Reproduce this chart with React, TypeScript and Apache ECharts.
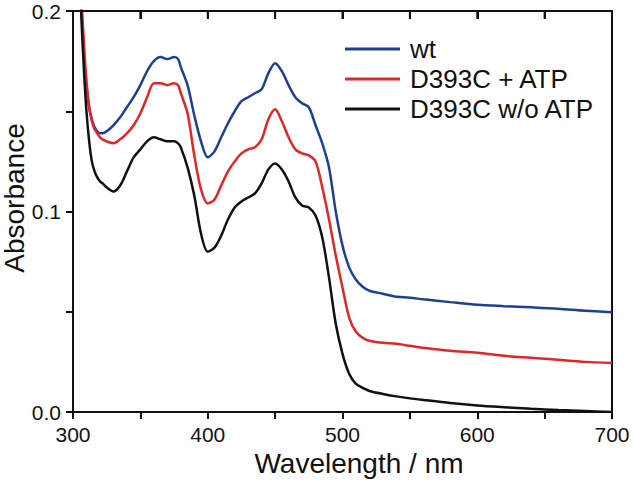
import React, { useEffect, useRef } from "react";
import * as echarts from "echarts";

const wavelengths = [
  302, 304, 306, 308, 310, 312, 314, 316, 318, 320, 322, 325, 330, 335, 340, 345, 350, 355, 360, 365,
  370, 375, 378, 380, 385, 390, 395, 400, 405, 410, 415, 420, 425, 430, 435, 440, 445, 450, 455, 460,
  465, 470, 475, 480, 485, 490, 495, 500, 505, 510, 515, 520, 530, 540, 550, 560, 580, 600, 620, 640,
  660, 680, 700,
];

const wt = [
  0.28, 0.235, 0.205, 0.18, 0.163, 0.152, 0.146, 0.142, 0.14, 0.139, 0.139, 0.14, 0.143, 0.147, 0.152, 0.157, 0.163, 0.17, 0.175, 0.177,
  0.176, 0.177, 0.176, 0.172, 0.163, 0.148, 0.135, 0.127, 0.13, 0.137, 0.144, 0.15, 0.155, 0.157, 0.159, 0.161, 0.169, 0.174, 0.17, 0.163,
  0.157, 0.154, 0.152, 0.143, 0.134, 0.122, 0.1, 0.083, 0.072, 0.066, 0.0625, 0.0605, 0.059, 0.0575, 0.057, 0.0562, 0.0548, 0.0535, 0.0528, 0.0522,
  0.0515, 0.0505, 0.0498,
];

const d393cAtp = [
  0.28, 0.24, 0.21, 0.185, 0.165, 0.152, 0.145, 0.141, 0.139, 0.137, 0.136, 0.135, 0.134, 0.136, 0.139, 0.143, 0.149, 0.157, 0.164, 0.164,
  0.163, 0.164, 0.163, 0.159, 0.149, 0.128, 0.111, 0.104, 0.106, 0.113, 0.12, 0.125, 0.129, 0.131, 0.132, 0.136, 0.146, 0.151, 0.145, 0.137,
  0.131, 0.129, 0.128, 0.125, 0.112, 0.096, 0.078, 0.062, 0.047, 0.04, 0.037, 0.0355, 0.0345, 0.034, 0.033, 0.032, 0.0305, 0.0295, 0.028, 0.027,
  0.026, 0.025, 0.0244,
];

const d393cNoAtp = [
  0.28, 0.235, 0.2, 0.172, 0.15, 0.135, 0.125, 0.12, 0.117, 0.115, 0.114, 0.112, 0.11, 0.113, 0.12, 0.127, 0.131, 0.135, 0.137, 0.136,
  0.135, 0.135, 0.134, 0.132, 0.122, 0.108, 0.089, 0.08, 0.082, 0.088, 0.096, 0.102, 0.105, 0.107, 0.109, 0.114, 0.121, 0.124, 0.121, 0.115,
  0.107, 0.103, 0.102, 0.098, 0.087, 0.067, 0.044, 0.029, 0.019, 0.014, 0.012, 0.0105, 0.009, 0.0078, 0.0068, 0.006, 0.0045, 0.0033, 0.0024, 0.0016,
  0.001, 0.0005, 0.0,
];

const topTickValues = [300, 350, 400, 450, 500, 550, 600, 650, 700];

const seriesNames = ["wt", "D393C + ATP", "D393C w/o ATP"];
const seriesColors = ["#1f3f97", "#e42528", "#111111"];
const xTitle = "Wavelength / nm";
const yTitle = "Absorbance";

const FONT = "'Liberation Sans', Arial, Helvetica, sans-serif";

const mkLine = () => ({ show: true, onZero: false, lineStyle: { color: "#111", width: 2 } });
const mkTick = (inside: boolean, length: number) => ({
  show: true,
  inside,
  length,
  lineStyle: { color: "#111", width: 2 },
});

export default function App() {
  const ref = useRef<HTMLDivElement>(null);

  useEffect(() => {
    if (!ref.current) return;
    const chart = echarts.init(ref.current, undefined, { renderer: "svg" });
    const values = [wt, d393cAtp, d393cNoAtp];
    const titleTexts = [
      {
        id: "xTitle",
        type: "text",
        x: 359,
        y: 463,
        style: {
          text: xTitle,
          fontSize: 28,
          fontFamily: FONT,
          fill: "#111",
          align: "center",
          verticalAlign: "middle",
        },
      },
      {
        id: "yTitle",
        type: "text",
        x: 14,
        y: 198,
        rotation: Math.PI / 2,
        style: {
          text: yTitle,
          fontSize: 28,
          fontFamily: FONT,
          fill: "#111",
          align: "center",
          verticalAlign: "middle",
        },
      },
    ];
    chart.setOption({
      animation: false,
      backgroundColor: "#fff",
      grid: {
        left: 73,
        right: 21,
        top: 11,
        bottom: 68,
        outerBoundsMode: "none",
      },
      xAxis: [
        {
          type: "value",
          position: "bottom",
          gridIndex: 0,
          min: 300,
          max: 700,
          interval: 50,
          axisLine: mkLine(),
          axisTick: mkTick(false, 7),
          axisLabel: {
            show: true,
            margin: 12,
            fontSize: 21,
            color: "#111",
            fontFamily: FONT,
            formatter: (v: number) => (Math.round(v) % 100 === 0 ? String(Math.round(v)) : ""),
          },
          splitLine: { show: false },
        },
        {
          type: "value",
          position: "top",
          gridIndex: 0,
          min: 300,
          max: 700,
          interval: 50,
          z: 10,
          axisLine: mkLine(),
          axisTick: mkTick(true, 8),
          axisLabel: { show: false },
          splitLine: { show: false },
        },
      ],
      yAxis: [
        {
          type: "value",
          position: "left",
          gridIndex: 0,
          min: 0,
          max: 0.2,
          interval: 0.05,
          axisLine: mkLine(),
          axisTick: mkTick(false, 7),
          axisLabel: {
            show: true,
            margin: 12,
            fontSize: 21,
            color: "#111",
            fontFamily: FONT,
            formatter: (v: number) =>
              Math.abs(v * 10 - Math.round(v * 10)) < 1e-6 ? v.toFixed(1) : "",
          },
          splitLine: { show: false },
        },
        {
          type: "value",
          position: "right",
          gridIndex: 0,
          min: 0,
          max: 0.2,
          interval: 0.05,
          axisLine: mkLine(),
          axisTick: { show: false },
          axisLabel: { show: false },
          splitLine: { show: false },
        },
      ],
      legend: {
        orient: "vertical",
        left: 340,
        top: 31,
        icon: "rect",
        itemWidth: 55,
        itemHeight: 3,
        itemGap: 4,
        data: seriesNames,
        textStyle: { fontSize: 26, color: "#111", fontFamily: FONT, padding: [0, 0, 0, 5] },
      },
      graphic: titleTexts,
      series: values.map((vals, i) => ({
        name: seriesNames[i],
        type: "line",
        xAxisIndex: 0,
        yAxisIndex: 0,
        data: wavelengths.map((w, j) => [w, vals[j]]),
        symbol: "none",
        showSymbol: false,
        smooth: 0.3,
        clip: true,
        color: seriesColors[i],
        itemStyle: { color: seriesColors[i] },
        lineStyle: { color: seriesColors[i], width: 2.5 },
      })),
    });

    // Top frame edge and inward ticks, placed through the chart's own scales.
    const topY = chart.convertToPixel({ yAxisIndex: 0 }, 0.2) as number;
    const xLeft = chart.convertToPixel({ xAxisIndex: 0 }, topTickValues[0]) as number;
    const xRight = chart.convertToPixel(
      { xAxisIndex: 0 },
      topTickValues[topTickValues.length - 1]
    ) as number;
    const frameStyle = { stroke: "#111", lineWidth: 2 };
    const topElements: any[] = [
      {
        id: "topEdge",
        type: "line",
        z: 100,
        shape: { x1: xLeft - 1, y1: topY, x2: xRight + 1, y2: topY },
        style: frameStyle,
      },
      ...topTickValues.map((v, i) => {
        const px = chart.convertToPixel({ xAxisIndex: 0 }, v) as number;
        return {
          id: "topTick" + i,
          type: "line",
          z: 100,
          shape: { x1: px, y1: topY, x2: px, y2: topY + 8 },
          style: frameStyle,
        };
      }),
    ];
    chart.setOption({ graphic: [...titleTexts, ...topElements] });

    return () => chart.dispose();
  }, []);

  return (
    <div
      ref={ref}
      style={{ position: "fixed", left: 0, top: 0, width: 633, height: 480, background: "#fff" }}
    />
  );
}
